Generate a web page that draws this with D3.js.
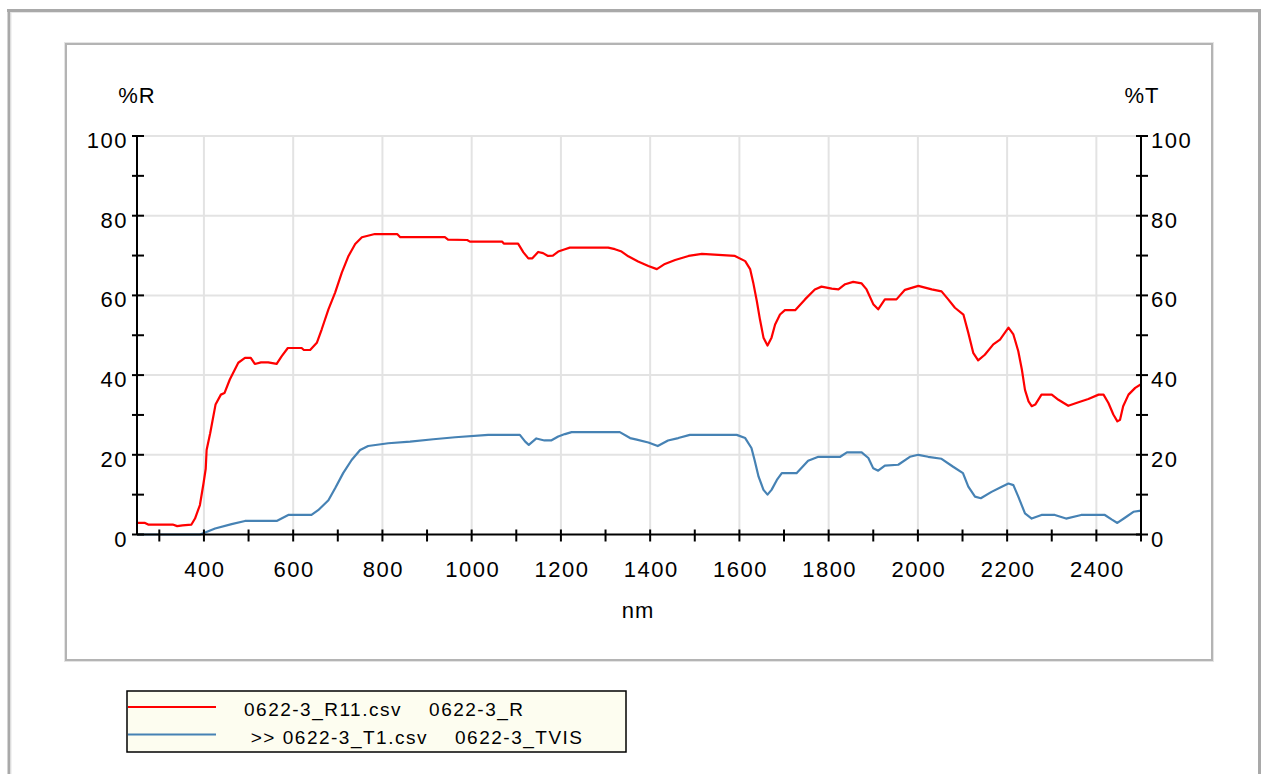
<!DOCTYPE html>
<html>
<head>
<meta charset="utf-8">
<script src="https://cdn.jsdelivr.net/npm/d3@7"></script>
<style>
  body { margin: 0; background: #fff; }
  text { font-family: Arial, "Liberation Sans", sans-serif; fill: #000; }
</style>
</head>
<body>
<div id="chart"></div>
<script>
var W = 1261, H = 774;

// reflectance curve (0622-3_R11.csv), nm / %R
var rNm = [250, 268, 275, 330, 340, 352, 372, 380, 391, 399, 404, 406, 414, 419, 426, 438, 446, 458, 477, 492,
  505, 514, 528, 544, 563, 574, 588, 619, 624, 638, 653, 664, 679, 694, 709, 724, 739, 754, 783, 833,
  840, 940, 947, 990, 996, 1068, 1072, 1104, 1116, 1127, 1136, 1149, 1160, 1171, 1182, 1194, 1209, 1220, 1306, 1321,
  1336, 1351, 1373, 1396, 1415, 1433, 1456, 1486, 1516, 1590, 1613, 1624, 1631, 1639, 1646, 1654, 1663, 1672, 1680, 1691,
  1702, 1725, 1747, 1769, 1784, 1807, 1822, 1837, 1855, 1874, 1885, 1900, 1911, 1926, 1952, 1971, 2001, 2031, 2053, 2068,
  2083, 2102, 2113, 2124, 2135, 2150, 2169, 2184, 2203, 2214, 2225, 2233, 2240, 2248, 2255, 2263, 2277, 2300, 2315, 2337,
  2360, 2382, 2405, 2416, 2427, 2438, 2447, 2453, 2460, 2472, 2487, 2500];
var rVal = [2.9, 2.9, 2.5, 2.5, 2.1, 2.3, 2.5, 4, 7.4, 12.8, 16.5, 21.2, 25.4, 28.4, 32.6, 35.1, 35.5, 38.9, 43.1, 44.3,
  44.3, 42.8, 43.2, 43.2, 42.8, 44.7, 46.8, 46.8, 46.3, 46.3, 48.1, 51.5, 56.5, 60.7, 65.7, 69.9, 72.9, 74.6, 75.4, 75.4,
  74.6, 74.6, 74.0, 73.9, 73.5, 73.5, 73.0, 73.0, 70.8, 69.3, 69.3, 70.9, 70.6, 69.9, 70.0, 71.0, 71.6, 72.0, 72.0, 71.6,
  71.0, 69.8, 68.5, 67.4, 66.6, 67.9, 68.9, 69.9, 70.4, 69.9, 68.6, 66.6, 63.2, 58.6, 54.0, 49.4, 47.4, 49.4, 52.7, 55.2,
  56.3, 56.3, 59.0, 61.5, 62.2, 61.7, 61.5, 62.8, 63.4, 63.0, 61.5, 57.8, 56.5, 59.0, 59.0, 61.4, 62.4, 61.5, 61.0, 59.0,
  56.9, 55.2, 50.6, 45.6, 43.7, 45.1, 47.7, 48.9, 51.9, 50.2, 46.0, 41.4, 36.3, 33.4, 32.2, 32.6, 35.1, 35.1, 33.8, 32.3,
  33.2, 34.0, 35.1, 35.1, 33.0, 30.1, 28.4, 28.8, 32.2, 35.1, 36.8, 37.7];

// transmittance curve (0622-3_T1.csv), nm / %T
var tNm = [250, 391, 400, 425, 462, 492, 563, 589, 641, 656, 679, 694, 712, 731, 750, 768, 813, 862, 914, 963,
  1037, 1108, 1120, 1128, 1145, 1163, 1178, 1194, 1209, 1224, 1332, 1355, 1370, 1396, 1417, 1440, 1463, 1489, 1594, 1613,
  1627, 1634, 1643, 1654, 1663, 1672, 1684, 1695, 1728, 1754, 1777, 1826, 1841, 1874, 1889, 1900, 1911, 1926, 1956, 1982,
  2001, 2023, 2053, 2079, 2101, 2113, 2128, 2141, 2165, 2188, 2203, 2214, 2225, 2240, 2255, 2277, 2307, 2332, 2366, 2419,
  2434, 2447, 2464, 2483, 2500];
var tVal = [0, 0, 0.4, 1.5, 2.6, 3.4, 3.4, 4.9, 4.9, 6.1, 8.6, 11.6, 15.4, 18.7, 21.2, 22.2, 22.9, 23.3, 23.9, 24.4,
  25.0, 25.0, 23.3, 22.5, 24.1, 23.6, 23.6, 24.6, 25.2, 25.7, 25.7, 24.2, 23.8, 23.1, 22.2, 23.6, 24.2, 25.0, 25.0, 24.2,
  21.7, 18.7, 14.5, 11.2, 10.0, 11.2, 13.7, 15.4, 15.4, 18.5, 19.5, 19.5, 20.6, 20.6, 19.2, 16.6, 16.0, 17.3, 17.5, 19.5,
  20.0, 19.5, 19.0, 17.0, 15.4, 12.0, 9.5, 9.1, 10.7, 12.0, 12.8, 12.4, 9.5, 5.3, 4.0, 4.9, 4.9, 4.0, 4.9, 4.9,
  3.8, 2.9, 4.2, 5.7, 6.0];

var xMajor = [400, 600, 800, 1000, 1200, 1400, 1600, 1800, 2000, 2200, 2400];
var xMinor = [300, 500, 700, 900, 1100, 1300, 1500, 1700, 1900, 2100, 2300, 2500];
var yMajor = [0, 20, 40, 60, 80, 100];
var yMinor = [10, 30, 50, 70, 90];

var legendNames = ["0622-3_R11.csv    0622-3_R", " >> 0622-3_T1.csv    0622-3_TVIS"];
var colors = ["#ff0000", "#4682b4"];

var svg = d3.select("#chart").append("svg")
  .attr("width", W)
  .attr("height", H);

// outer frame
svg.append("line").attr("x1", 7).attr("x2", 1261).attr("y1", 10.5).attr("y2", 10.5)
  .attr("stroke", "#a9a9a9").attr("stroke-width", 3);
svg.append("line").attr("x1", 9).attr("x2", 9).attr("y1", 9).attr("y2", H)
  .attr("stroke", "#a9a9a9").attr("stroke-width", 3);
svg.append("line").attr("x1", 1259.5).attr("x2", 1259.5).attr("y1", 9).attr("y2", H)
  .attr("stroke", "#a9a9a9").attr("stroke-width", 3);
svg.append("line").attr("x1", 11).attr("x2", 1258).attr("y1", 12.5).attr("y2", 12.5)
  .attr("stroke", "#e6e6e6").attr("stroke-width", 1);
svg.append("line").attr("x1", 11).attr("x2", 11).attr("y1", 12).attr("y2", H)
  .attr("stroke", "#e6e6e6").attr("stroke-width", 1);

// inner panel
svg.append("rect")
  .attr("x", 66).attr("y", 44).attr("width", 1146).attr("height", 616)
  .attr("fill", "#fff").attr("stroke", "#b4b4b4").attr("stroke-width", 2);
svg.append("rect")
  .attr("x", 64.5).attr("y", 42.5).attr("width", 1149).attr("height", 619)
  .attr("fill", "none").attr("stroke", "#e4e4e4").attr("stroke-width", 1);

var xScale = d3.scaleLinear().domain([250, 2500]).range([137, 1141]);
var yScale = d3.scaleLinear().domain([0, 100]).range([534.5, 136]);

// grid
svg.selectAll(".gx").data(xMajor).enter().append("line")
  .attr("x1", function(d) { return xScale(d); })
  .attr("x2", function(d) { return xScale(d); })
  .attr("y1", yScale(0)).attr("y2", yScale(100))
  .attr("stroke", "#e3e3e3").attr("stroke-width", 2);
svg.selectAll(".gy").data(yMajor.slice(1)).enter().append("line")
  .attr("x1", xScale(250)).attr("x2", xScale(2500))
  .attr("y1", function(d) { return yScale(d); })
  .attr("y2", function(d) { return yScale(d); })
  .attr("stroke", "#e3e3e3").attr("stroke-width", 2);

// curves
var line = d3.line()
  .x(function(d) { return xScale(d[0]); })
  .y(function(d) { return yScale(d[1]); });

var series = [d3.zip(rNm, rVal), d3.zip(tNm, tVal)];
svg.selectAll(".curve").data(series).enter().append("path")
  .attr("d", line)
  .attr("fill", "none")
  .attr("stroke", function(d, i) { return colors[i]; })
  .attr("stroke-width", 2.2)
  .attr("stroke-linejoin", "round");

// axes lines
var axisG = svg.append("g").attr("stroke", "#000").attr("stroke-width", 2);
axisG.append("line").attr("x1", xScale(250)).attr("x2", xScale(2500))
  .attr("y1", yScale(0)).attr("y2", yScale(0));
axisG.append("line").attr("x1", xScale(250)).attr("x2", xScale(250))
  .attr("y1", yScale(0)).attr("y2", yScale(100));
axisG.append("line").attr("x1", xScale(2500)).attr("x2", xScale(2500))
  .attr("y1", yScale(0)).attr("y2", yScale(100));

// ticks
var xTicks = xMajor.concat(xMinor);
axisG.selectAll(".tx").data(xTicks).enter().append("line")
  .attr("x1", function(d) { return xScale(d); })
  .attr("x2", function(d) { return xScale(d); })
  .attr("y1", yScale(0) - 5).attr("y2", yScale(0) + 7);
var yTicks = yMajor.concat(yMinor);
[xScale(250), xScale(2500)].forEach(function(ax) {
  axisG.selectAll(null).data(yTicks).enter().append("line")
    .attr("x1", ax - 5).attr("x2", ax + 7)
    .attr("y1", function(d) { return yScale(d); })
    .attr("y2", function(d) { return yScale(d); });
});

// tick labels
svg.selectAll(".lx").data(xMajor).enter().append("text")
  .attr("x", function(d) { return xScale(d) + 1; })
  .attr("y", 577)
  .attr("text-anchor", "middle")
  .attr("font-size", "22px")
  .attr("letter-spacing", "1.5px")
  .text(function(d) { return d; });
svg.selectAll(".ly").data(yMajor).enter().append("text")
  .attr("x", xScale(250) - 9)
  .attr("y", function(d) { return yScale(d) + 12; })
  .attr("text-anchor", "end")
  .attr("font-size", "22px")
  .attr("letter-spacing", "1.5px")
  .text(function(d) { return d; });
svg.selectAll(".ry").data(yMajor).enter().append("text")
  .attr("x", xScale(2500) + 10)
  .attr("y", function(d) { return yScale(d) + 12; })
  .attr("font-size", "22px")
  .attr("letter-spacing", "1.5px")
  .text(function(d) { return d; });

// axis titles
svg.append("text").attr("x", 137).attr("y", 103).attr("text-anchor", "middle")
  .attr("font-size", "22px").attr("letter-spacing", "1px").text("%R");
svg.append("text").attr("x", 1142).attr("y", 103).attr("text-anchor", "middle")
  .attr("font-size", "22px").attr("letter-spacing", "1px").text("%T");
svg.append("text").attr("x", 638).attr("y", 618).attr("text-anchor", "middle")
  .attr("font-size", "22px").attr("letter-spacing", "1px").text("nm");

// legend
var leg = svg.append("g");
leg.append("rect")
  .attr("x", 127).attr("y", 691).attr("width", 499).attr("height", 61)
  .attr("fill", "#fdfdf0").attr("stroke", "#000").attr("stroke-width", 1.5);
leg.selectAll(".ll").data(legendNames).enter().append("line")
  .attr("x1", 128).attr("x2", 216)
  .attr("y1", function(d, i) { return 707 + i * 27.5; })
  .attr("y2", function(d, i) { return 707 + i * 27.5; })
  .attr("stroke", function(d, i) { return colors[i]; })
  .attr("stroke-width", 2);
leg.selectAll(".lt").data(legendNames).enter().append("text")
  .attr("x", 244)
  .attr("y", function(d, i) { return 716 + i * 27.5; })
  .attr("font-size", "19px")
  .attr("letter-spacing", "1.5px")
  .style("white-space", "pre")
  .text(function(d) { return d; });
</script>
</body>
</html>
